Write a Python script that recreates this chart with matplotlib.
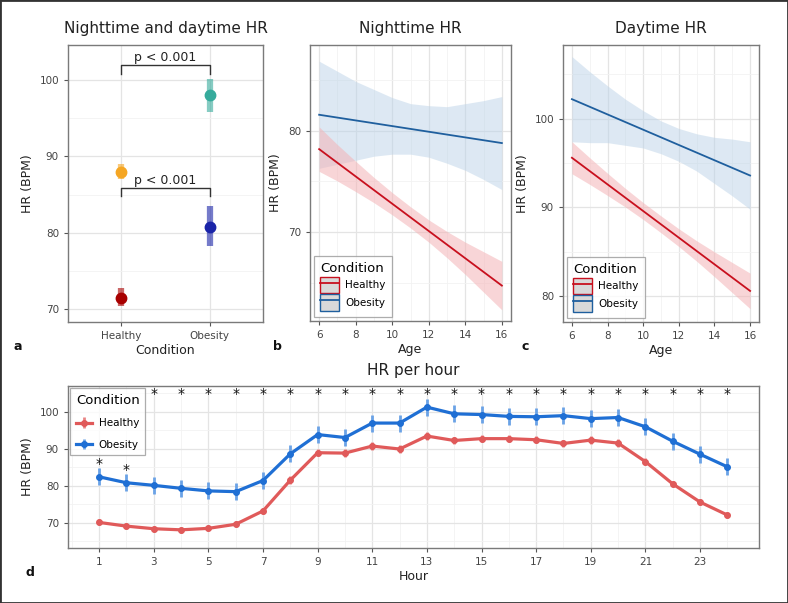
import matplotlib
matplotlib.use("Agg")
import matplotlib.pyplot as plt
import numpy as np
from matplotlib.patches import Rectangle
from matplotlib.lines import Line2D
from matplotlib.legend_handler import HandlerTuple

# ---- data ----
# panel a: mean HR with error range
cond_labels = ["Healthy", "Obesity"]
day_mean = [88.0, 98.0]
day_lo = [87.0, 95.8]
day_hi = [89.0, 100.2]
night_mean = [71.5, 80.8]
night_lo = [70.4, 78.2]
night_hi = [72.7, 83.5]

# panels b/c: regression lines with confidence ribbons over age
ages = [6, 7, 8, 9, 10, 11, 12, 13, 14, 15, 16]
night_healthy_fit = [78.2, 76.85, 75.5, 74.15, 72.8, 71.45, 70.1, 68.75, 67.4, 66.05, 64.7]
night_healthy_hi = [80.4, 78.65, 77.0, 75.4, 73.9, 72.5, 71.2, 70.05, 69.0, 68.05, 67.1]
night_healthy_lo = [76.0, 75.05, 74.0, 72.9, 71.7, 70.4, 69.0, 67.45, 65.8, 64.05, 62.3]
night_obesity_fit = [81.6, 81.32, 81.04, 80.76, 80.48, 80.2, 79.92, 79.64, 79.36, 79.08, 78.8]
night_obesity_hi = [86.9, 85.9, 84.9, 84.1, 83.3, 82.7, 82.5, 82.4, 82.7, 83.0, 83.4]
night_obesity_lo = [76.3, 76.7, 77.1, 77.5, 77.7, 77.7, 77.4, 76.8, 76.1, 75.2, 74.2]

day_healthy_fit = [95.6, 94.1, 92.6, 91.1, 89.6, 88.1, 86.6, 85.1, 83.6, 82.1, 80.6]
day_healthy_hi = [97.4, 95.6, 93.85, 92.15, 90.55, 89.05, 87.6, 86.25, 85.0, 83.8, 82.6]
day_healthy_lo = [93.8, 92.6, 91.35, 90.05, 88.65, 87.15, 85.6, 83.95, 82.2, 80.4, 78.6]
day_obesity_fit = [102.2, 101.34, 100.48, 99.62, 98.76, 97.9, 97.04, 96.18, 95.32, 94.46, 93.6]
day_obesity_hi = [107.0, 105.3, 103.7, 102.2, 100.9, 99.75, 98.9, 98.3, 97.9, 97.7, 97.4]
day_obesity_lo = [97.4, 97.3, 97.3, 97.0, 96.7, 96.05, 95.2, 94.1, 92.7, 91.3, 89.8]

# panel d: HR per hour
hours = list(range(1, 25))
healthy_hr = [70.1, 69.1, 68.4, 68.1, 68.5, 69.6, 73.2, 81.5, 88.9, 88.8, 90.7, 89.9,
              93.4, 92.2, 92.7, 92.7, 92.4, 91.4, 92.3, 91.5, 86.5, 80.5, 75.6, 72.1]
healthy_err = [0.8, 0.8, 0.8, 0.8, 0.8, 0.8, 0.9, 1.0, 1.0, 1.0, 1.0, 1.0,
               1.0, 1.0, 1.0, 1.0, 1.0, 1.0, 1.0, 1.0, 1.0, 0.9, 0.9, 0.8]
obesity_hr = [82.4, 80.8, 80.1, 79.3, 78.6, 78.4, 81.4, 88.6, 93.8, 93.0, 96.9, 96.9,
              101.2, 99.4, 99.2, 98.7, 98.6, 98.9, 98.1, 98.4, 95.9, 92.0, 88.5, 85.1]
obesity_err = [2.3, 2.3, 2.3, 2.3, 2.3, 2.3, 2.3, 2.3, 2.3, 2.3, 2.3, 2.3,
               2.3, 2.3, 2.3, 2.3, 2.3, 2.3, 2.3, 2.3, 2.3, 2.3, 2.3, 2.3]
star_hours = list(range(1, 25))

# ---- style ----
plt.rcParams['font.family'] = ['DejaVu Sans']
GRID_MAJ = "#e4e4e4"
GRID_MIN = "#f2f2f2"
BORDER = "#7a7a7a"
TXT = "#222222"
TICK_TXT = "#444444"
TITLE_FS = 11
LABEL_FS = 9
TICK_FS = 7.5

fig = plt.figure(figsize=(7.88, 6.03), dpi=100)
W, H = 788, 603


def add_ax(x0, y0, x1, y1):
    # pixel box (top-left origin) to figure coordinates
    return fig.add_axes([x0 / W, 1 - y1 / H, (x1 - x0) / W, (y1 - y0) / H])


def style_ax(ax):
    ax.set_facecolor("white")
    for s in ax.spines.values():
        s.set_color(BORDER)
        s.set_linewidth(1.0)
    ax.tick_params(colors=TICK_TXT, labelsize=TICK_FS, length=3, width=0.8, color="#555555")
    ax.grid(True, which="major", color=GRID_MAJ, linewidth=0.9)
    ax.grid(True, which="minor", color=GRID_MIN, linewidth=0.6)
    ax.set_axisbelow(True)
    ax.tick_params(which="minor", length=0)


# ---- panel a ----
ax_a = add_ax(68, 45, 263, 322)
style_ax(ax_a)
xpos = np.arange(1, len(cond_labels) + 1)
day_cols = ["#f5a623", "#36ab9c"]
night_cols = ["#a80000", "#1a24a8"]
for i, x in enumerate(xpos):
    ax_a.plot([x, x], [day_lo[i], day_hi[i]], color=day_cols[i], lw=4.5, alpha=0.6, solid_capstyle="butt")
    ax_a.plot(x, day_mean[i], "o", color=day_cols[i], ms=7.5)
    ax_a.plot([x, x], [night_lo[i], night_hi[i]], color=night_cols[i], lw=4.5, alpha=0.6, solid_capstyle="butt")
    ax_a.plot(x, night_mean[i], "o", color=night_cols[i], ms=7.5)
for top, drop in [(102.0, 100.8), (85.9, 84.8)]:
    ax_a.plot([1, 1, 2, 2], [drop, top, top, drop], color="#333333", lw=1.0)
    ax_a.text(1.5, top + 0.1, "p < 0.001", ha="center", va="bottom", fontsize=9, color=TXT)
ax_a.set_xlim(0.4, 2.6)
ax_a.set_ylim(68.3, 104.6)
ax_a.set_xticks(xpos)
ax_a.set_xticklabels(cond_labels)
ax_a.set_yticks([70, 80, 90, 100])
ax_a.set_yticks([75, 85, 95], minor=True)
ax_a.set_xlabel("Condition", fontsize=LABEL_FS, color=TXT, labelpad=2)
ax_a.set_ylabel("HR (BPM)", fontsize=LABEL_FS, color=TXT)
ax_a.set_title("Nighttime and daytime HR", fontsize=TITLE_FS, color=TXT, pad=9)

# ---- panels b and c ----
RED = "#c8101e"
BLUE = "#1f5f9e"
PINK = "#f4b3b6"
LBLUE = "#bcd3e8"


def ribbon_panel(box, title, h_fit, h_lo, h_hi, o_fit, o_lo, o_hi, ylim, yticks, yminor):
    ax = add_ax(*box)
    style_ax(ax)
    ax.fill_between(ages, o_lo, o_hi, color=LBLUE, alpha=0.5, lw=0)
    ax.fill_between(ages, h_lo, h_hi, color=PINK, alpha=0.55, lw=0)
    ax.plot(ages, o_fit, color=BLUE, lw=1.3)
    ax.plot(ages, h_fit, color=RED, lw=1.3)
    ax.set_xlim(5.5, 16.5)
    ax.set_ylim(*ylim)
    ax.set_xticks([6, 8, 10, 12, 14, 16])
    ax.set_xticks([7, 9, 11, 13, 15], minor=True)
    ax.set_yticks(yticks)
    ax.set_yticks(yminor, minor=True)
    ax.set_xlabel("Age", fontsize=LABEL_FS, color=TXT, labelpad=2)
    ax.set_ylabel("HR (BPM)", fontsize=LABEL_FS, color=TXT)
    ax.set_title(title, fontsize=TITLE_FS, color=TXT, pad=9)
    handles = []
    for lc in [RED, BLUE]:
        bg = Rectangle((0, 0), 1, 1, facecolor="#d9d9d9", edgecolor=lc, lw=1.0)
        ln = Line2D([], [], color=lc, lw=1.3)
        handles.append((bg, ln))
    leg = ax.legend(handles, ["Healthy", "Obesity"], title="Condition", loc="lower left",
                    handler_map={tuple: HandlerTuple(ndivide=1, pad=0)},
                    fontsize=7.5, title_fontsize=9.5, frameon=True, fancybox=False,
                    edgecolor="#999999", handlelength=1.8, handleheight=2.0,
                    borderaxespad=0.4, labelspacing=0.15, handletextpad=0.6,
                    borderpad=0.6, alignment="left")
    leg.get_frame().set_linewidth(0.9)
    return ax


ax_b = ribbon_panel((310, 45, 511, 321), "Nighttime HR",
                    night_healthy_fit, night_healthy_lo, night_healthy_hi,
                    night_obesity_fit, night_obesity_lo, night_obesity_hi,
                    (61.2, 88.5), [70, 80], [65, 75, 85])
ax_c = ribbon_panel((563, 45, 759, 322), "Daytime HR",
                    day_healthy_fit, day_healthy_lo, day_healthy_hi,
                    day_obesity_fit, day_obesity_lo, day_obesity_hi,
                    (77.1, 108.3), [80, 90, 100], [85, 95, 105])

# ---- panel d ----
ax_d = add_ax(68, 386, 759, 548)
style_ax(ax_d)
H_RED = "#e05a5a"
H_BLUE = "#1f6fd4"
ax_d.errorbar(hours, healthy_hr, yerr=healthy_err, color=H_RED, lw=2.3, marker="o", ms=4,
              ecolor="#e98585", elinewidth=2.0, capsize=0, label="Healthy")
ax_d.errorbar(hours, obesity_hr, yerr=obesity_err, color=H_BLUE, lw=2.3, marker="o", ms=4,
              ecolor="#6aa2e6", elinewidth=2.0, capsize=0, label="Obesity")
for h in star_hours:
    ystar = 104.7 if h >= 3 else obesity_hr[h - 1] + 3.5
    ax_d.text(h, ystar, "*", ha="center", va="center", fontsize=10, color="#111111")
ax_d.set_xlim(-0.14, 25.16)
ax_d.set_ylim(63.2, 106.9)
ax_d.set_xticks(list(range(1, 25, 2)))
ax_d.set_xticks(list(range(0, 26, 2)), minor=True)
ax_d.set_yticks([70, 80, 90, 100])
ax_d.set_yticks([65, 75, 85, 95, 105], minor=True)
ax_d.set_xlabel("Hour", fontsize=LABEL_FS, color=TXT, labelpad=2)
ax_d.set_ylabel("HR (BPM)", fontsize=LABEL_FS, color=TXT)
ax_d.set_title("HR per hour", fontsize=TITLE_FS, color=TXT, pad=8)
leg = ax_d.legend(title="Condition", loc="upper left", fontsize=7.5, title_fontsize=9.5,
                  frameon=True, fancybox=False, edgecolor="#999999", handlelength=1.6,
                  borderaxespad=0.2, labelspacing=1.1, handletextpad=0.6, borderpad=0.55,
                  alignment="left")
leg.get_frame().set_linewidth(0.9)

# ---- panel letters ----
for letter, (px, py) in {"a": (18, 346), "b": (277, 346), "c": (525, 346), "d": (30, 573)}.items():
    fig.text(px / W, 1 - py / H, letter, fontsize=9, fontweight="bold", color="#111111",
             ha="center", va="center")

# outer frame
fig.patches.append(Rectangle((0, 0), 1, 1, transform=fig.transFigure, fill=False,
                             edgecolor="#333333", lw=2.0))

fig.savefig("out.png", dpi=100)
